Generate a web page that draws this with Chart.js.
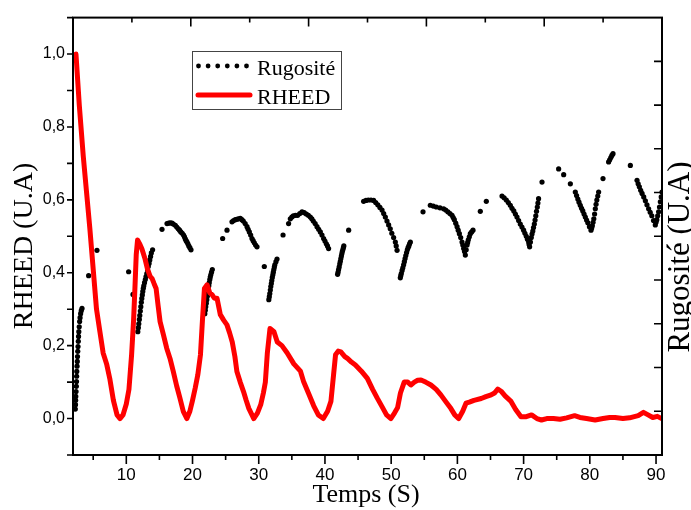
<!DOCTYPE html>
<html><head><meta charset="utf-8">
<script src="https://cdn.jsdelivr.net/npm/chart.js@4.4.1/dist/chart.umd.min.js"></script>
<style>html,body{margin:0;padding:0;background:#fff;}canvas{display:block;}</style>
</head><body>
<canvas id="c" width="691" height="510"></canvas>
<script>
// ---- data ----
const seriesNames = ['Rugosité', 'RHEED'];
const rheedX = [2.4,2.9,3.5,4.0,4.5,5.0,5.5,6.0,6.5,7.05,7.5,8.05,8.6,9.05,9.5,10.0,10.4,10.8,11.1,11.3,11.5,11.7,12.0,12.35,12.8,13.2,13.6,13.9,14.2,14.5,14.8,15.1,15.6,16.1,16.6,17.1,17.6,18.1,18.6,19.15,19.6,20.0,20.4,20.8,21.2,21.5,21.8,22.2,22.6,22.95,23.3,23.7,24.2,24.7,25.2,25.6,26.0,26.4,26.7,27.2,27.7,28.1,28.5,29.25,29.8,30.3,30.7,31.0,31.3,31.7,32.3,32.8,33.5,34.3,35.3,36.3,36.8,37.5,38.3,39.0,39.75,40.4,40.9,41.3,41.6,42.0,42.4,43.0,43.4,44.0,44.6,45.5,46.4,47.2,47.9,48.7,49.3,49.95,50.5,50.97,51.4,51.97,52.5,52.97,53.5,54.0,54.5,55.2,56.0,56.8,57.5,58.3,59.0,59.6,60.2,60.8,61.3,61.8,62.5,63.6,64.3,65.1,65.6,66.1,66.6,67.2,68.1,68.8,69.6,70.4,71.2,72.0,72.7,73.5,74.5,75.5,76.5,77.7,78.5,79.5,80.8,82.0,83.0,83.8,85.0,86.0,87.3,88.1,88.8,89.5,90.2,90.85];
const rheedY = [1.0,0.86,0.72,0.62,0.52,0.41,0.30,0.24,0.18,0.148,0.11,0.05,0.01,0.0,0.01,0.04,0.08,0.175,0.27,0.357,0.45,0.49,0.48,0.466,0.44,0.41,0.39,0.384,0.37,0.357,0.31,0.266,0.23,0.193,0.165,0.129,0.09,0.056,0.02,0.0,0.02,0.05,0.083,0.12,0.175,0.27,0.357,0.367,0.345,0.34,0.33,0.33,0.285,0.27,0.257,0.235,0.21,0.17,0.129,0.1,0.074,0.05,0.028,0.0,0.015,0.038,0.07,0.1,0.18,0.247,0.238,0.21,0.2,0.18,0.15,0.13,0.10,0.07,0.035,0.01,0.0,0.02,0.047,0.12,0.175,0.185,0.183,0.17,0.165,0.155,0.147,0.13,0.11,0.08,0.056,0.03,0.01,0.0,0.015,0.03,0.07,0.10,0.10,0.092,0.10,0.105,0.106,0.10,0.092,0.08,0.065,0.045,0.028,0.01,0.0,0.02,0.042,0.045,0.05,0.055,0.06,0.065,0.07,0.081,0.075,0.062,0.047,0.025,0.005,0.005,0.01,0.0,-0.004,0.0,0.0,-0.002,0.002,0.008,0.003,0.0,-0.004,0.0,0.003,0.003,0.0,0.002,0.008,0.017,0.01,0.003,0.006,0.0];
const rugX = [2.30,2.33,2.35,2.37,2.41,2.45,2.48,2.50,2.52,2.56,2.60,2.63,2.67,2.71,2.75,2.79,2.83,2.89,2.95,3.02,3.10,3.20,3.31,4.31,5.57,
  10.35,11.01,
  11.74,11.82,11.89,11.97,12.04,12.12,12.19,12.27,12.34,12.42,12.49,12.57,12.64,12.75,12.87,12.98,13.1,13.21,13.32,13.44,13.55,13.67,13.78,13.97,
  15.39,
  16.15,16.4,16.65,16.9,17.1,17.4,17.62,17.85,18.04,18.23,18.45,18.65,18.78,18.91,19.04,19.17,19.3,19.44,19.6,19.77,
  21.86,21.93,22.0,22.08,22.16,22.23,22.31,22.38,22.46,22.53,22.61,22.68,22.76,22.87,22.99,
  24.55,25.21,
  25.96,26.2,26.46,26.7,26.92,27.22,27.45,27.67,27.95,28.23,28.4,28.58,28.78,28.98,29.15,29.33,29.53,29.74,
  30.84,
  31.52,31.6,31.67,31.75,31.82,31.9,31.97,32.05,32.13,32.2,32.28,32.36,32.43,32.6,32.76,
  33.67,34.51,
  34.77,35.0,35.22,35.55,35.87,36.2,36.54,36.86,37.19,37.49,37.79,38.02,38.24,38.52,38.8,39.05,39.3,39.55,39.8,40.0,40.21,40.38,40.55,
  41.91,41.98,42.06,42.15,42.24,42.32,42.4,42.48,42.55,42.62,42.7,42.78,42.85,43.58,
  45.84,46.2,46.55,46.95,47.35,47.66,47.98,48.3,48.62,48.87,49.12,49.37,49.62,49.86,50.1,50.37,50.63,50.76,50.89,
  51.38,51.45,51.53,51.65,51.76,51.88,51.99,52.1,52.21,52.33,52.44,52.55,52.67,52.78,52.9,
  54.81,
  55.91,56.36,56.82,57.37,57.92,58.24,58.56,58.88,59.19,59.37,59.54,59.75,59.95,60.12,60.3,60.5,60.7,60.82,60.95,61.08,61.2,
  61.33,61.46,61.55,61.65,61.8,61.95,62.15,62.36,
  63.46,64.37,
  66.74,67.06,67.39,67.69,67.99,68.25,68.52,68.76,69.0,69.25,69.5,69.75,70.0,70.2,70.41,70.58,70.76,70.83,70.91,
  71.03,71.16,71.27,71.39,71.5,71.62,71.73,71.84,71.95,72.07,72.16,72.26,
  72.78,
  75.29,76.05,77.06,77.81,
  78.0,78.19,78.37,78.56,78.75,78.94,79.13,79.32,79.51,79.7,79.94,80.18,
  80.28,80.38,80.49,80.6,80.72,80.83,80.94,81.06,81.2,81.33,
  81.99,82.84,83.0,83.17,83.33,83.5,
  86.12,87.13,
  87.3,87.48,87.68,87.89,88.14,88.39,88.63,88.88,89.12,89.36,89.62,89.89,
  90.0,90.12,90.25,90.39,90.52,90.65,90.78,90.9];
const rugY = [0.105,0.115,0.125,0.134,0.145,0.157,0.168,0.18,0.191,0.203,0.214,0.225,0.237,0.248,0.26,0.271,0.282,0.293,0.305,0.314,0.323,0.330,0.335,0.41,0.468,
  0.419,0.367,
  0.282,0.291,0.30,0.31,0.319,0.329,0.339,0.349,0.358,0.366,0.374,0.381,0.387,0.394,0.401,0.408,0.415,0.423,0.431,0.438,0.446,0.454,0.462,0.469,
  0.516,
  0.529,0.530,0.531,0.530,0.528,0.525,0.521,0.517,0.514,0.51,0.507,0.503,0.499,0.494,0.49,0.487,0.483,0.478,0.474,0.469,
  0.323,0.331,0.339,0.347,0.355,0.363,0.371,0.379,0.387,0.394,0.401,0.407,0.412,0.418,0.424,
  0.495,0.514,
  0.533,0.536,0.538,0.539,0.54,0.541,0.538,0.535,0.529,0.522,0.516,0.51,0.503,0.495,0.49,0.485,0.48,0.476,
  0.431,
  0.355,0.362,0.369,0.377,0.385,0.392,0.399,0.406,0.412,0.418,0.424,0.43,0.435,0.442,0.448,
  0.503,0.529,
  0.54,0.544,0.547,0.548,0.548,0.552,0.556,0.554,0.551,0.548,0.544,0.54,0.535,0.529,0.522,0.516,0.51,0.503,0.495,0.489,0.483,0.478,0.472,
  0.413,0.418,0.424,0.43,0.437,0.443,0.449,0.455,0.46,0.465,0.469,0.474,0.478,0.514,
  0.58,0.582,0.583,0.583,0.582,0.577,0.572,0.566,0.56,0.552,0.544,0.535,0.526,0.517,0.507,0.497,0.487,0.478,0.468,
  0.405,0.41,0.415,0.422,0.428,0.435,0.442,0.449,0.456,0.463,0.469,0.474,0.478,0.483,0.487,
  0.556,
  0.571,0.569,0.567,0.565,0.563,0.56,0.556,0.552,0.548,0.543,0.538,0.53,0.522,0.514,0.506,0.497,0.487,0.48,0.472,0.465,0.457,
  0.469,0.48,0.486,0.492,0.499,0.506,0.51,0.514,
  0.557,0.58,
  0.592,0.588,0.583,0.577,0.571,0.564,0.558,0.551,0.544,0.536,0.528,0.521,0.514,0.507,0.5,0.493,0.487,0.481,0.476,
  0.487,0.497,0.505,0.512,0.52,0.528,0.537,0.547,0.557,0.567,0.576,0.586,
  0.624,
  0.654,0.641,0.62,0.601,
  0.593,0.585,0.578,0.571,0.564,0.558,0.551,0.544,0.537,0.531,0.522,0.514,
  0.519,0.524,0.532,0.54,0.551,0.563,0.573,0.583,0.592,0.601,
  0.632,0.67,0.675,0.68,0.685,0.689,
  0.662,0.628,
  0.62,0.613,0.605,0.598,0.59,0.581,0.572,0.563,0.555,0.547,0.536,0.526,
  0.532,0.538,0.547,0.556,0.567,0.579,0.59,0.601];
const xTickValues = [10,20,30,40,50,60,70,80,90];
const xTickLabels = ['10','20','30','40','50','60','70','80','90'];
const xMinorTicks = [5,15,25,35,45,55,65,75,85];
const yTickValues = [0,0.2,0.4,0.6,0.8,1.0];
const yTickLabels = ['0,0','0,2','0,4','0,6','0,8','1,0'];
const yTickMarks = [-0.1,0,0.1,0.2,0.3,0.4,0.5,0.6,0.7,0.8,0.9,1.0,1.1];
const y2TickMarks = [0.1,0.2,0.3,0.4,0.5,0.6,0.7,0.8,0.9];
const xTitle = 'Temps (S)';
const yTitle = 'RHEED (U.A)';
const y2Title = 'Rugosité (U.A)';

const SANS = "'Liberation Sans', Arial, sans-serif";
const SERIF = "'Liberation Serif', 'Times New Roman', serif";

const decor = {
  id: 'decor',
  afterDraw(chart) {
    const ctx = chart.ctx, a = chart.chartArea;
    const sx = chart.scales.x, sy = chart.scales.y, sy2 = chart.scales.y2;
    ctx.save();
    ctx.strokeStyle = '#000';
    ctx.lineWidth = 2;
    ctx.strokeRect(a.left, a.top, a.right - a.left, a.bottom - a.top);
    ctx.lineWidth = 1.6;
    ctx.beginPath();
    xTickValues.forEach(v => { const p = sx.getPixelForValue(v); ctx.moveTo(p, a.bottom); ctx.lineTo(p, a.bottom + 9); });
    xMinorTicks.forEach(v => { const p = sx.getPixelForValue(v); ctx.moveTo(p, a.bottom); ctx.lineTo(p, a.bottom + 5); });
    for (let k = 1; k < 10; k++) {
      const p = a.left + (a.right - a.left) * k / 10;
      ctx.moveTo(p, a.top); ctx.lineTo(p, a.top + (k % 2 === 0 ? 9 : 5));
    }
    yTickMarks.forEach(v => { const p = sy.getPixelForValue(v); ctx.moveTo(a.left, p); ctx.lineTo(a.left - 6, p); });
    y2TickMarks.forEach(v => { const p = sy2.getPixelForValue(v); ctx.moveTo(a.right, p); ctx.lineTo(a.right - 8, p); });
    ctx.stroke();

    ctx.fillStyle = '#000';
    ctx.textAlign = 'center';
    ctx.textBaseline = 'alphabetic';
    ctx.font = '26px ' + SERIF;
    ctx.fillText(xTitle, 366, 502);
    ctx.save();
    ctx.translate(32, 246);
    ctx.rotate(-Math.PI / 2);
    ctx.font = '28px ' + SERIF;
    ctx.fillText(yTitle, 0, 0);
    ctx.restore();
    ctx.save();
    ctx.translate(689, 257);
    ctx.rotate(-Math.PI / 2);
    ctx.font = '31px ' + SERIF;
    ctx.fillText(y2Title, 0, 0);
    ctx.restore();

    const ds0 = chart.data.datasets[0], ds1 = chart.data.datasets[1];
    ctx.fillStyle = '#fff';
    ctx.fillRect(192, 51, 150, 59);
    ctx.strokeStyle = '#444';
    ctx.lineWidth = 1;
    ctx.strokeRect(192.5, 51.5, 149, 58);
    ctx.fillStyle = ds0.backgroundColor;
    for (let i = 0; i < 6; i++) {
      ctx.beginPath();
      ctx.arc(198.5 + i * 9.6, 66, 2.4, 0, Math.PI * 2);
      ctx.fill();
    }
    ctx.strokeStyle = ds1.borderColor;
    ctx.lineWidth = 5;
    ctx.lineCap = 'round';
    ctx.beginPath(); ctx.moveTo(198, 95); ctx.lineTo(250, 95); ctx.stroke();
    ctx.fillStyle = '#000';
    ctx.textAlign = 'left';
    ctx.font = '22px ' + SERIF;
    ctx.fillText(seriesNames[0], 257, 75);
    ctx.fillText(seriesNames[1], 257, 104);
    ctx.restore();
  }
};

new Chart(document.getElementById('c'), {
  type: 'scatter',
  data: {
    datasets: [
      {
        label: seriesNames[0],
        data: rugX.map((x, i) => ({x, y: rugY[i]})),
        yAxisID: 'y2',
        showLine: false,
        pointRadius: 2.6,
        pointHoverRadius: 2.6,
        pointBorderWidth: 0,
        backgroundColor: '#000',
        borderColor: '#000',
        order: 2
      },
      {
        label: seriesNames[1],
        data: rheedX.map((x, i) => ({x, y: rheedY[i]})),
        yAxisID: 'y',
        showLine: true,
        pointRadius: 0,
        borderColor: '#ff0000',
        backgroundColor: '#ff0000',
        borderWidth: 5,
        borderJoinStyle: 'round',
        borderCapStyle: 'round',
        tension: 0,
        order: 1
      }
    ]
  },
  options: {
    responsive: false,
    animation: false,
    events: [],
    layout: { padding: { top: 15, left: 0, right: 0, bottom: 0 } },
    plugins: { legend: { display: false }, tooltip: { enabled: false } },
    scales: {
      x: {
        type: 'linear', position: 'bottom', min: 1.95, max: 90.9,
        grid: { display: true, drawOnChartArea: false, drawTicks: false, color: 'transparent' },
        border: { display: false },
        afterBuildTicks: s => { s.ticks = xTickValues.map(v => ({ value: v })); },
        afterFit: s => { s.height = 55; },
        ticks: {
          padding: 10, color: '#000', maxRotation: 0, autoSkip: false,
          font: { family: SANS, size: 17 },
          callback: (v) => xTickLabels[xTickValues.indexOf(v)] ?? ''
        }
      },
      y: {
        type: 'linear', position: 'left', min: -0.1, max: 1.1,
        grid: { display: true, drawOnChartArea: false, drawTicks: false, color: 'transparent' },
        border: { display: false },
        afterBuildTicks: s => { s.ticks = yTickValues.map(v => ({ value: v })); },
        afterFit: s => { s.width = 73; },
        ticks: {
          padding: 8, color: '#000', autoSkip: false,
          font: { family: SANS, size: 16 },
          callback: (v) => { const i = yTickValues.findIndex(t => Math.abs(t - v) < 1e-9); return i >= 0 ? yTickLabels[i] : ''; }
        }
      },
      y2: {
        type: 'linear', position: 'right', min: 0, max: 1,
        grid: { display: false, drawOnChartArea: false, drawTicks: false },
        border: { display: false },
        afterFit: s => { s.width = 29; },
        ticks: { display: false }
      }
    }
  },
  plugins: [decor]
});
</script>
</body></html>
